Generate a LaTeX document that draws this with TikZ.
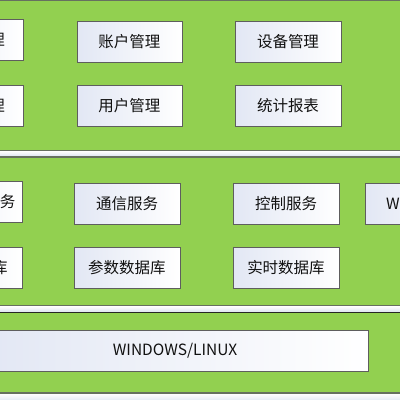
\documentclass[tikz,border=0pt]{standalone}
\usepackage{fontspec}
\setmainfont{Noto Sans CJK SC}
\definecolor{pgreen}{HTML}{92D050}
\definecolor{pborder}{HTML}{667060}
\definecolor{bborder}{HTML}{5E5E5E}
\definecolor{bblue}{HTML}{E2E7F4}
\definecolor{gapblue}{HTML}{DDE4F1}
\definecolor{txt}{HTML}{111111}
\tikzset{
  panel/.style={fill=pgreen, draw=pborder, line width=1.5pt},
  modbox/.style={draw=bborder, line width=0.9pt, left color=bblue, right color=white,
    minimum width=106pt, minimum height=41pt, inner sep=0pt, text=txt,
    font=\fontsize{15.5}{18}\selectfont},
  gap/.style={top color=white, bottom color=gapblue}
}
\begin{document}
\begin{tikzpicture}[x=1pt,y=-1pt]
\useasboundingbox (0,0) rectangle (400,400);
\clip (0,0) rectangle (400,400);
\fill[white] (0,0) rectangle (400,400);
% gaps
\fill[gap] (-10,151) rectangle (410,156.5);
\fill[gap] (-10,306) rectangle (410,312);
\fill[gap] (-10,393.5) rectangle (410,402);
% panels
\draw[panel] (-10,0.7) rectangle (410,150.6);
\draw[panel] (-10,156.8) rectangle (410,305.5);
\draw[panel, draw=none] (-10,312.5) rectangle (410,392.5);
\draw[line width=1.2pt, black!85] (-10,312.2) -- (410,312.2);
\draw[line width=2pt, pborder] (-10,393) -- (410,393);
% panel 1
\node[modbox, minimum width=98pt] (sys)   at (-26,39.5) {系统管理};
\node[modbox, minimum width=105pt] (acct)  at (129.5,42) {账户管理};
\node[modbox] (dev)   at (288,42) {设备管理};
\node[modbox, minimum width=98pt] (role)  at (-26,105.5) {权限管理};
\node[modbox, minimum width=105pt] (user)  at (129.5,106) {用户管理};
\node[modbox] (stat)  at (288,106) {统计报表};
% panel 2
\node[modbox] (acq)   at (-31,202) {数据采集服务};
\node[modbox] (comm)  at (127,203.5) {通信服务};
\node[modbox] (ctrl)  at (286,203.5) {控制服务};
\node[modbox] (web)   at (418,203.5) {WEB服务};
\node[modbox] (hist)  at (-31,268) {历史数据库};
\node[modbox] (para)  at (127,268) {参数数据库};
\node[modbox] (rt)    at (286,268) {实时数据库};
% panel 3
\node[modbox, minimum width=386pt] (os) at (175,350.5) {WINDOWS/LINUX};
\end{tikzpicture}
\end{document}
